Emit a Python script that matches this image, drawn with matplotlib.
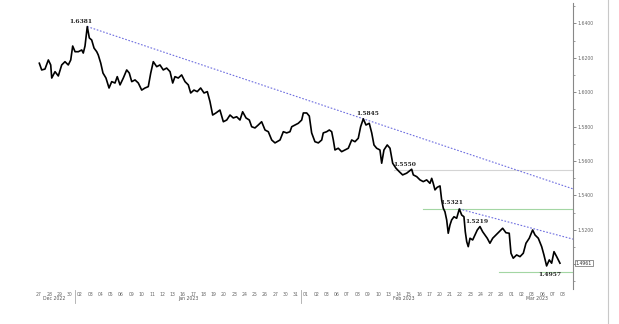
import numpy as np
import matplotlib
matplotlib.use("Agg")
import matplotlib.pyplot as plt
from matplotlib.ticker import MultipleLocator, FuncFormatter

# trading-day index (fractional) and close price
days = [0.03, 0.26, 0.58, 0.91, 1.14, 1.24, 1.56, 1.88, 2.21, 2.53, 2.85, 3.09, 3.28, 3.51, 3.83,
        4.16, 4.31, 4.48, 4.70, 4.90, 5.13, 5.36, 5.62, 5.77, 6.01, 6.23, 6.52, 6.82, 7.08, 7.40,
        7.62, 7.89, 8.21, 8.54, 8.79, 9.03, 9.35, 9.67, 10.00, 10.32, 10.64, 10.88, 11.13, 11.46,
        11.78, 12.10, 12.43, 12.76, 13.02, 13.24, 13.56, 13.89, 14.22, 14.54, 14.77, 15.09, 15.41,
        15.74, 16.07, 16.39, 16.65, 16.91, 17.23, 17.62, 17.95, 18.28, 18.60, 18.92, 19.25, 19.57,
        19.83, 20.16, 20.48, 20.71, 21.03, 21.35, 21.68, 22.01, 22.33, 22.66, 22.98, 23.47, 23.79,
        24.12, 24.44, 24.61, 24.93, 25.25, 25.58, 25.74, 26.07, 26.32, 26.55, 26.87, 27.20, 27.53,
        27.68, 28.01, 28.27, 28.50, 28.66, 28.82, 29.14, 29.47, 29.79, 30.12, 30.45, 30.77, 31.09,
        31.32, 31.58, 31.84, 32.16, 32.40, 32.62, 32.88, 33.20, 33.37, 33.59, 33.91, 34.18, 34.44,
        34.76, 35.08, 35.41, 35.80, 36.29, 36.45, 36.78, 37.10, 37.42, 37.75, 38.07, 38.24, 38.39,
        38.56, 38.78, 39.05, 39.21, 39.37, 39.53, 39.70, 39.85, 40.02, 40.18, 40.41, 40.67, 40.93,
        41.16, 41.38, 41.51, 41.65, 41.80, 41.97, 42.23, 42.45, 42.68, 42.94, 43.20, 43.43, 43.65,
        43.91, 44.18, 44.50, 44.82, 45.15, 45.47, 45.79, 45.96, 46.18, 46.51, 46.84, 47.16, 47.42,
        47.74, 48.07, 48.30, 48.62, 48.95, 49.17, 49.43, 49.69, 49.92, 50.15, 50.41, 50.73]
price = [1.6168, 1.6129, 1.6134, 1.6187, 1.6158, 1.6082, 1.6119, 1.6094, 1.6158, 1.6177, 1.6158,
         1.6187, 1.6268, 1.6235, 1.6235, 1.6245, 1.6227, 1.6268, 1.6381, 1.6315, 1.6303, 1.6256,
         1.6235, 1.6216, 1.6169, 1.6111, 1.6082, 1.6024, 1.6061, 1.6053, 1.6090, 1.6042, 1.6082,
         1.6129, 1.6111, 1.6061, 1.6071, 1.6053, 1.6012, 1.6024, 1.6032, 1.6111, 1.6177, 1.6148,
         1.6158, 1.6129, 1.6140, 1.6119, 1.6053, 1.6090, 1.6082, 1.6100, 1.6061, 1.6042, 1.5995,
         1.6012, 1.6003, 1.6024, 1.5995, 1.6003, 1.5945, 1.5867, 1.5879, 1.5896, 1.5828, 1.5838,
         1.5867, 1.5850, 1.5857, 1.5838, 1.5886, 1.5850, 1.5838, 1.5799, 1.5792, 1.5809, 1.5828,
         1.5780, 1.5770, 1.5722, 1.5705, 1.5722, 1.5770, 1.5763, 1.5770, 1.5799, 1.5809, 1.5819,
         1.5838, 1.5879, 1.5879, 1.5861, 1.5763, 1.5712, 1.5705, 1.5722, 1.5763, 1.5770, 1.5780,
         1.5770, 1.5722, 1.5664, 1.5674, 1.5654, 1.5664, 1.5674, 1.5722, 1.5712, 1.5732, 1.5799,
         1.5845, 1.5809, 1.5819, 1.5763, 1.5693, 1.5674, 1.5664, 1.5587, 1.5664, 1.5693, 1.5674,
         1.5587, 1.5558, 1.5538, 1.5519, 1.5529, 1.5552, 1.5519, 1.5509, 1.5490, 1.5480, 1.5490,
         1.5470, 1.5499, 1.5470, 1.5432, 1.5447, 1.5455, 1.5373, 1.5325, 1.5305, 1.5257, 1.5180,
         1.5228, 1.5257, 1.5276, 1.5267, 1.5321, 1.5286, 1.5276, 1.5189, 1.5131, 1.5102, 1.5151,
         1.5141, 1.5170, 1.5199, 1.5219, 1.5189, 1.5170, 1.5151, 1.5122, 1.5151, 1.5170, 1.5189,
         1.5209, 1.5183, 1.5180, 1.5064, 1.5035, 1.5054, 1.5044, 1.5064, 1.5122, 1.5151, 1.5199,
         1.5170, 1.5151, 1.5102, 1.5054, 1.4990, 1.5025, 1.5006, 1.5073, 1.5044, 1.5006]

day_labels = ["27", "28", "29", "30",
              "02", "03", "04", "05", "06", "09", "10", "11", "12", "13", "16", "17", "18", "19",
              "20", "23", "24", "25", "26", "27", "30", "31",
              "01", "02", "03", "06", "07", "08", "09", "10", "13", "14", "15", "16", "17", "20",
              "21", "22", "23", "24", "27", "28",
              "01", "02", "03", "06", "07", "08"]
months = ["Dec 2022", "Jan 2023", "Feb 2023", "Mar 2023"]
month_days = [4, 22, 20, 6]

# annotated levels: (label, day, price)
marks = [("1.6381", 4.1, 1.6413), ("1.5845", 32.0, 1.5873), ("1.5550", 35.6, 1.5577),
         ("1.5321", 40.2, 1.5356), ("1.5219", 42.65, 1.5251), ("1.4957", 49.75, 1.4938)]
# horizontal levels: (price, start day, colour)
levels = [(1.5550, 34.6, "#d4d4d4"), (1.5321, 37.4, "#a3d6a3"), (1.4957, 44.8, "#a3d6a3")]
# trend lines through two touch points
trend1 = [(4.70, 1.6381), (31.58, 1.5845)]
trend2 = [(40.93, 1.5321), (48.07, 1.5208)]
last_label = "1.4961"

fig = plt.figure(figsize=(6.19, 3.24), dpi=100)
ax = fig.add_axes([35 / 619, 1 - 289 / 324, 538 / 619, 286 / 324])
xmin, xmax = -0.39, 52.0
ax.set_xlim(xmin, xmax)
ax.set_ylim(1.4856, 1.6518)

ax.plot(days, price, color="black", lw=1.2, zorder=3)

for p, start, c in levels:
    ax.plot([start, xmax], [p, p], color=c, lw=0.8, zorder=1)

for (x0, y0), (x1, y1) in [trend1, trend2]:
    slope = (y1 - y0) / (x1 - x0)
    ax.plot([x0, xmax], [y0, y0 + slope * (xmax - x0)], color="#6f6fe0",
            lw=0.8, ls=(0, (1.5, 1.5)), zorder=2)

for txt, x, y in marks:
    ax.text(x, y, txt, fontsize=4.3, fontweight="bold", family="DejaVu Serif",
            ha="center", va="center", color="#222222", zorder=4)

for s in ["left", "top", "bottom"]:
    ax.spines[s].set_visible(False)
ax.spines["right"].set_color("#888888")
ax.spines["right"].set_linewidth(0.8)

# the last-price box sits where the 1.5000 label would be
ax.yaxis.tick_right()
ax.yaxis.set_major_locator(MultipleLocator(0.02))
ax.yaxis.set_minor_locator(MultipleLocator(0.01))
ax.yaxis.set_major_formatter(FuncFormatter(lambda v, pos: "" if abs(v - 1.50) < 1e-6 else f"{v:.4f}"))
ax.tick_params(axis="y", which="major", labelsize=3.3, length=2, width=0.6,
               color="#777777", labelcolor="#666666", pad=1)
ax.tick_params(axis="y", which="minor", length=1.5, width=0.5, color="#777777")

ax.set_xticks(np.arange(len(day_labels)))
ax.set_xticklabels(day_labels)
ax.tick_params(axis="x", length=0, labelsize=3.3, labelcolor="#666666", pad=2)

xt = ax.get_xaxis_transform()
start = 0
for name, n in zip(months, month_days):
    ax.text(start + (n - 1) / 2, -0.033, name, transform=xt, fontsize=3.3,
            color="#555555", ha="center", va="center", clip_on=False)
    if 0 < start < 40:
        ax.plot([start - 0.5, start - 0.5], [-0.003, -0.048], transform=xt,
                color="#aaaaaa", lw=0.6, clip_on=False)
    start += n

ax.text(xmax + 0.25, price[-1], last_label, fontsize=3.3, color="#333333",
        ha="left", va="center", clip_on=False, zorder=5,
        bbox=dict(boxstyle="square,pad=0.15", fc="white", ec="#666666", lw=0.5))

fig.add_artist(plt.Line2D([608 / 619, 608 / 619], [0, 1], color="#c8c8c8", lw=0.8))

fig.savefig("out.png", dpi=100)
